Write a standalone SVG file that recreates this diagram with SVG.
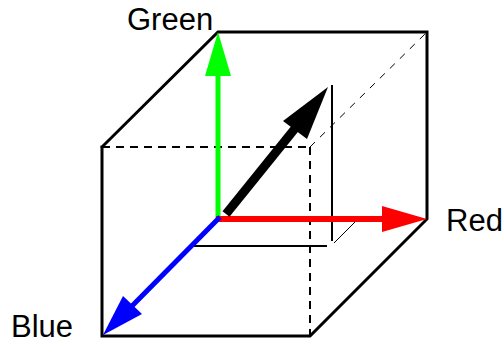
<svg xmlns="http://www.w3.org/2000/svg" width="503" height="343" viewBox="0 0 503 343">
<style>
.edge{fill:none;stroke:#000;stroke-width:3;stroke-linecap:square}
.dash{fill:none;stroke:#000;stroke-width:2;stroke-dasharray:8 6}
.thin{fill:none;stroke:#000;stroke-width:2}
.tdash{fill:none;stroke:#000;stroke-width:1;stroke-dasharray:7 7}
.lbl{font-family:"Liberation Sans",Arial,sans-serif;font-size:31px;fill:#000}
</style>
<rect width="503" height="343" fill="#fff"/>
<g id="connectors">
<g id="cube">
<polyline class="edge" points="102,147 218,32 427,32 427,219 310,336 102,336 102,147"/>
<line class="dash" x1="102" y1="147" x2="310" y2="147"/>
<line class="dash" x1="310" y1="147" x2="310" y2="336"/>
<line class="tdash" x1="310" y1="147" x2="427" y2="32"/>
<line class="thin" x1="332" y1="85" x2="332" y2="241"/>
<line class="thin" x1="192" y1="246" x2="327" y2="246"/>
<line class="thin" style="stroke-width:1" x1="334" y1="243" x2="358" y2="219"/>
</g>
<g id="axis-green">
<line x1="218" y1="219" x2="218" y2="74" stroke="#00ff00" stroke-width="5"/>
<polygon points="218,32 231,76 205,76" fill="#00ff00"/>
</g>
<g id="axis-red">
<line x1="216" y1="219" x2="384" y2="219" stroke="#ff0000" stroke-width="6"/>
<polygon points="427,219 382,206 382,232" fill="#ff0000"/>
</g>
<g id="axis-blue">
<line x1="220" y1="217" x2="130" y2="308" stroke="#0000ff" stroke-width="5"/>
<polygon points="103,335 123,296 142,314" fill="#0000ff"/>
</g>
<g id="vector">
<line x1="226" y1="214" x2="297" y2="126" stroke="#000" stroke-width="9"/>
<polygon points="328,87 283,121 307,139" fill="#000"/>
</g>
</g>
<g id="label-green"><text class="lbl" x="127" y="30">Green</text></g>
<g id="label-red"><text class="lbl" x="446" y="231">Red</text></g>
<g id="label-blue"><text class="lbl" x="11" y="337">Blue</text></g>
</svg>
